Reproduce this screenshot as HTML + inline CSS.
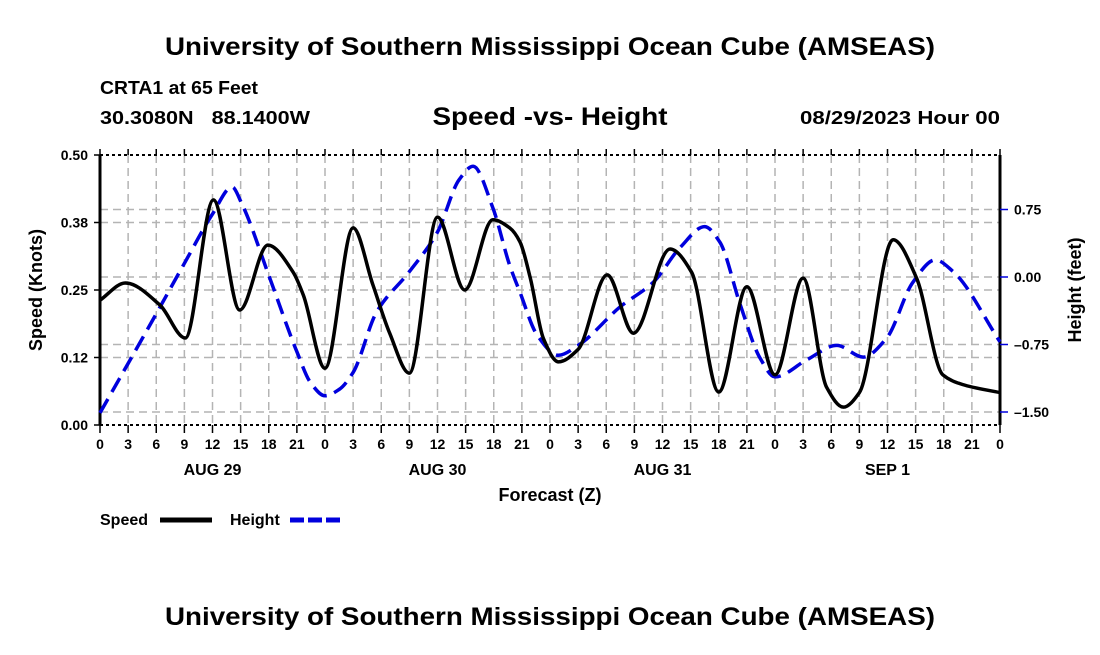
<!DOCTYPE html>
<html><head><meta charset="utf-8"><style>
body{margin:0;background:#fff;}
svg text{font-family:"Liberation Sans",sans-serif;font-weight:bold;}
</style></head><body>
<svg width="1100" height="650" viewBox="0 0 1100 650" xmlns="http://www.w3.org/2000/svg">
<text x="550" y="55" font-size="25" text-anchor="middle" textLength="770" lengthAdjust="spacingAndGlyphs">University of Southern Mississippi Ocean Cube (AMSEAS)</text>
<text x="100" y="94" font-size="18" textLength="158" lengthAdjust="spacingAndGlyphs">CRTA1 at 65 Feet</text>
<text x="100" y="124" font-size="18" textLength="210" lengthAdjust="spacingAndGlyphs" xml:space="preserve">30.3080N   88.1400W</text>
<text x="550" y="125" font-size="25" text-anchor="middle" textLength="235" lengthAdjust="spacingAndGlyphs">Speed -vs- Height</text>
<text x="1000" y="124" font-size="18" text-anchor="end" textLength="200" lengthAdjust="spacingAndGlyphs">08/29/2023 Hour 00</text>
<g id="grid"></g>
<g id="axes"></g>
<g id="series"></g>
<text x="550" y="501" font-size="18" text-anchor="middle">Forecast (Z)</text>
<text transform="translate(42,290) rotate(-90)" font-size="18" text-anchor="middle">Speed (Knots)</text>
<text transform="translate(1081,290) rotate(-90)" font-size="18" text-anchor="middle">Height (feet)</text>
<g>
<text x="100" y="525" font-size="16">Speed</text>
<line x1="160" y1="520" x2="212" y2="520" stroke="#000" stroke-width="5"/>
</g>
<g>
<text x="230" y="525" font-size="16">Height</text>
<line x1="290" y1="520" x2="342" y2="520" stroke="#0000dd" stroke-width="5" stroke-dasharray="14,4"/>
</g>
<text x="550" y="625" font-size="25" text-anchor="middle" textLength="770" lengthAdjust="spacingAndGlyphs">University of Southern Mississippi Ocean Cube (AMSEAS)</text>
</svg>
<script>
const speedHours=[0,2.7,6.4,9.1,12.1,14.9,17.9,20.6,21.7,24,27,29.1,30.9,33,36,38.9,41.9,43.7,44.8,45.9,47.3,48.9,51,54.1,56.9,60.8,63.1,66,69,72,75,77.5,79.3,81,84.6,87.1,89.9,92,96];
const speedValues=[0.231,0.263,0.222,0.161,0.417,0.213,0.333,0.283,0.24,0.105,0.365,0.26,0.17,0.096,0.385,0.25,0.38,0.365,0.339,0.272,0.16,0.117,0.14,0.278,0.17,0.326,0.283,0.061,0.256,0.093,0.272,0.07,0.033,0.06,0.343,0.272,0.093,0.075,0.06];
const heightHours=[0,6.1,9.1,12,14.1,15.1,18.1,21,22.5,24,25.5,27,29.5,33,36,38.3,39.8,41.9,43.7,44.8,46.6,48.9,51,55.5,59,61.9,64.5,66.1,68.3,70.4,72,75.4,78.6,81.4,83.9,86.7,89.1,91,96];
const heightValues=[-1.51,-0.39,0.17,0.7,1.0,0.82,-0.01,-0.83,-1.18,-1.32,-1.25,-1.06,-0.39,0.06,0.5,1.08,1.23,0.77,0.13,-0.17,-0.64,-0.87,-0.76,-0.33,-0.06,0.33,0.56,0.39,-0.31,-0.9,-1.11,-0.92,-0.76,-0.89,-0.68,-0.06,0.19,0.06,-0.72];
const speedTicks=[0,0.125,0.25,0.375,0.5];
const speedTickLabels=["0.00","0.12","0.25","0.38","0.50"];
const heightTicks=[0.75,0,-0.75,-1.5];
const heightTickLabels=["0.75","0.00","\u20130.75","\u20131.50"];
const hourTicks=[0,3,6,9,12,15,18,21,24,27,30,33,36,39,42,45,48,51,54,57,60,63,66,69,72,75,78,81,84,87,90,93,96];
const dayLabels=["AUG 29","AUG 30","AUG 31","SEP 1"];
const dayLabelHours=[12,36,60,84];

const L=100,R=1000,T=155,B=425;
const xs=h=>L+(h/96)*(R-L);
const ysp=v=>B-(v/0.5)*(B-T);
const yht=v=>277-v*90;
const NS="http://www.w3.org/2000/svg";
function mk(tag,attrs,parent){const e=document.createElementNS(NS,tag);for(const k in attrs)e.setAttribute(k,attrs[k]);parent.appendChild(e);return e;}
const grid=document.getElementById('grid'),axes=document.getElementById('axes'),series=document.getElementById('series');
hourTicks.forEach(h=>{if(h>0&&h<96){const l=mk('line',{x1:xs(h),x2:xs(h),y1:T,y2:B,stroke:'#b4b4b4','stroke-width':1.5,'stroke-dasharray':'8,5'},grid);

}});
speedTicks.forEach(v=>{if(v>0&&v<0.5){const l=mk('line',{x1:L,x2:R,y1:ysp(v),y2:ysp(v),stroke:'#b4b4b4','stroke-width':1.5,'stroke-dasharray':'8,5'},grid);

}});
heightTicks.forEach(v=>{const l=mk('line',{x1:L,x2:R,y1:yht(v),y2:yht(v),stroke:'#b4b4b4','stroke-width':1.5,'stroke-dasharray':'8,5'},grid);

});
mk('line',{x1:L,x2:R,y1:T,y2:T,stroke:'#000','stroke-width':2,'stroke-dasharray':'3,3'},axes);
mk('line',{x1:L,x2:R,y1:B,y2:B,stroke:'#000','stroke-width':2,'stroke-dasharray':'3,3'},axes);
mk('line',{x1:L,x2:L,y1:T,y2:B,stroke:'#000','stroke-width':3},axes);
mk('line',{x1:R,x2:R,y1:T,y2:B,stroke:'#000','stroke-width':3},axes);
hourTicks.forEach((h,i)=>{
mk('line',{x1:xs(h),x2:xs(h),y1:B,y2:B+8,stroke:'#000','stroke-width':1.5},axes);
mk('line',{x1:xs(h),x2:xs(h),y1:T,y2:T-6,stroke:'#000','stroke-width':1.5},axes);
const t=mk('text',{x:xs(h),y:B+24,'font-size':14,'text-anchor':'middle'},axes);t.textContent=String(h%24);

});
dayLabels.forEach((d,i)=>{const t=mk('text',{x:xs(dayLabelHours[i]),y:475,'font-size':16,'text-anchor':'middle'},axes);t.textContent=d;

});
speedTicks.forEach((v,i)=>{mk('line',{x1:L-6,x2:L,y1:ysp(v),y2:ysp(v),stroke:'#000','stroke-width':1.5},axes);
const t=mk('text',{x:L-12,y:ysp(v)+5,'font-size':14,'text-anchor':'end'},axes);t.textContent=speedTickLabels[i];

});
heightTicks.forEach((v,i)=>{mk('line',{x1:R,x2:R+8,y1:yht(v),y2:yht(v),stroke:'#0000dd','stroke-width':1.5},axes);
const t=mk('text',{x:R+14,y:yht(v)+5,'font-size':14},axes);t.textContent=heightTickLabels[i];

});
// monotone cubic (Fritsch-Carlson)
function mono(px,py){const n=px.length,d=[],m=[];
for(let i=0;i<n-1;i++)d.push((py[i+1]-py[i])/(px[i+1]-px[i]));
m[0]=d[0];m[n-1]=d[n-2];
for(let i=1;i<n-1;i++){if(d[i-1]*d[i]<=0)m[i]=0;else{const w1=2*(px[i+1]-px[i])+(px[i]-px[i-1]),w2=(px[i+1]-px[i])+2*(px[i]-px[i-1]);m[i]=(w1+w2)/(w1/d[i-1]+w2/d[i]);}}
let s=`M${px[0]},${py[0]}`;
for(let i=0;i<n-1;i++){const h=(px[i+1]-px[i])/3;s+=` C${px[i]+h},${py[i]+m[i]*h} ${px[i+1]-h},${py[i+1]-m[i+1]*h} ${px[i+1]},${py[i+1]}`;}
return s;}
const hp=mk('path',{d:mono(heightHours.map(xs),heightValues.map(yht)),fill:'none',stroke:'#0000dd','stroke-width':3.5,'stroke-dasharray':'16,8'},series);


const sp=mk('path',{d:mono(speedHours.map(xs),speedValues.map(ysp)),fill:'none',stroke:'#000','stroke-width':3.5},series);


</script>
</body></html>
